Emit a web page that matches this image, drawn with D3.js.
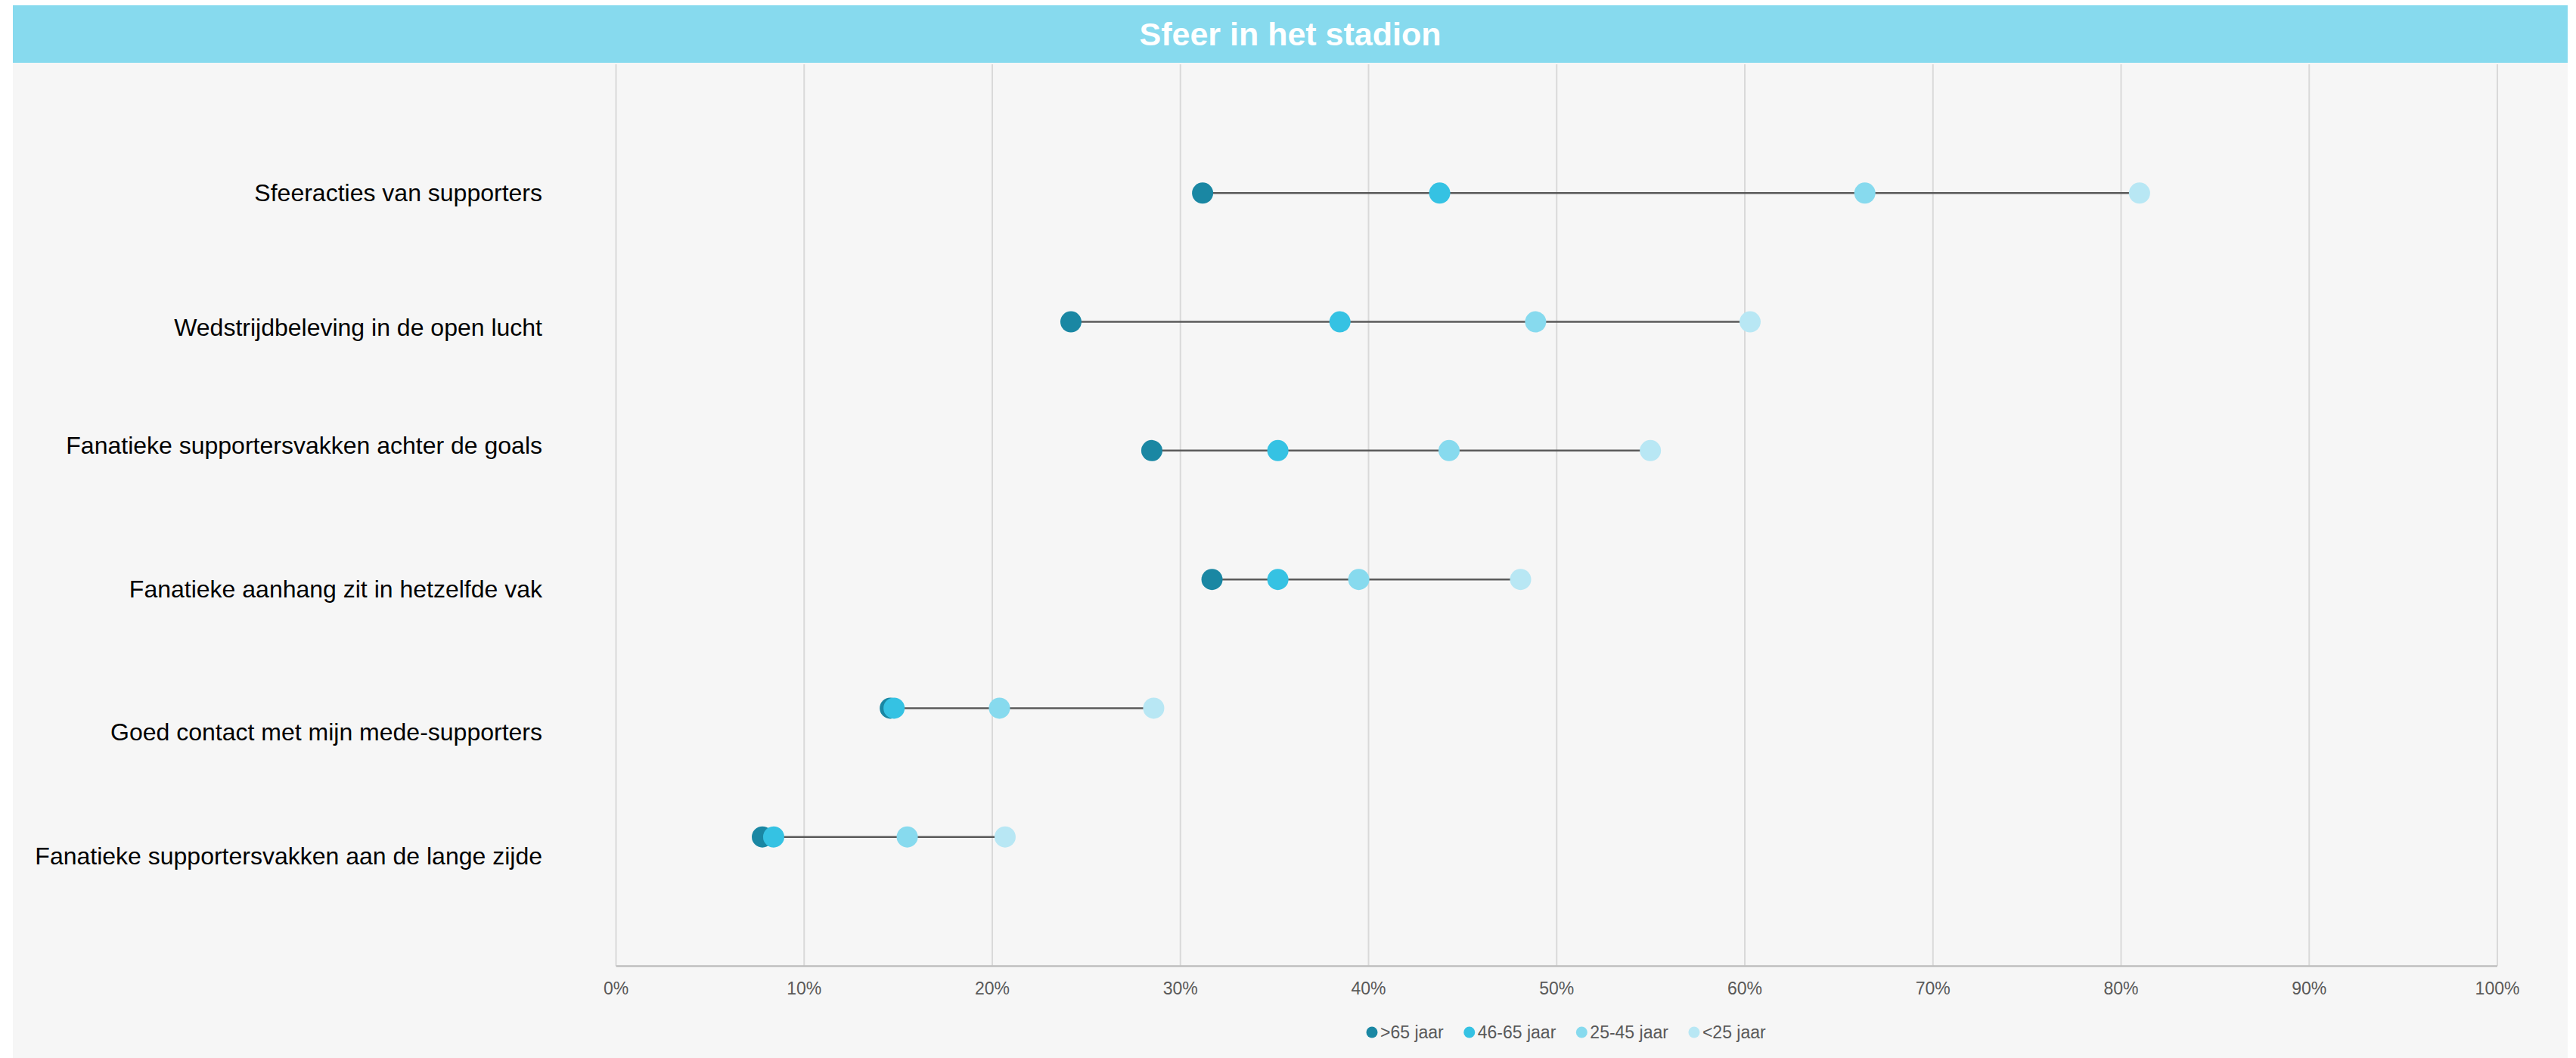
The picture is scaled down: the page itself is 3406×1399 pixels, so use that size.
<!DOCTYPE html>
<html>
<head>
<meta charset="utf-8">
<script src="https://cdn.jsdelivr.net/npm/d3@7"></script>
<style>
  html, body { margin: 0; padding: 0; background: #ffffff; }
  svg { display: block; }
  text { font-family: "Liberation Sans", Arial, sans-serif; }
</style>
</head>
<body>
<svg id="chart" width="3406" height="1399"></svg>
<script>
// ---------------- DATA ----------------
const title = "Sfeer in het stadion";
const categories = [
  "Sfeeracties van supporters",
  "Wedstrijdbeleving in de open lucht",
  "Fanatieke supportersvakken achter de goals",
  "Fanatieke aanhang zit in hetzelfde vak",
  "Goed contact met mijn mede-supporters",
  "Fanatieke supportersvakken aan de lange zijde"
];
const seriesNames = [">65 jaar", "46-65 jaar", "25-45 jaar", "<25 jaar"];
const over65   = [31.2, 24.2, 28.5, 31.7, 14.6, 7.8];
const age46_65 = [43.8, 38.5, 35.2, 35.2, 14.8, 8.4];
const age25_45 = [66.4, 48.9, 44.3, 39.5, 20.4, 15.5];
const under25  = [81.0, 60.3, 55.0, 48.1, 28.6, 20.7];
const xTicks = [0, 10, 20, 30, 40, 50, 60, 70, 80, 90, 100];

// ---------------- LAYOUT / STYLE ----------------
const W = 3406, H = 1399;
const colors = ["#1a87a3", "#35c2e3", "#87daee", "#b8e7f4"];
const panel = { x0: 17, x1: 3395, y0: 7 };
const header = { y1: 83 };
const plot = { left: 814, right: 3301.5, top: 85, bottom: 1277 };
const labelNudge = [0, 7, -7, 13, 31, 25];

const series = [over65, age46_65, age25_45, under25];

const svg = d3.select("#chart");

svg.append("rect")
  .attr("x", panel.x0).attr("y", panel.y0)
  .attr("width", panel.x1 - panel.x0).attr("height", H - panel.y0)
  .attr("fill", "#f6f6f6");

svg.append("rect")
  .attr("x", panel.x0).attr("y", panel.y0)
  .attr("width", panel.x1 - panel.x0).attr("height", header.y1 - panel.y0)
  .attr("fill", "#87daee");

svg.append("text")
  .attr("x", (panel.x0 + panel.x1) / 2)
  .attr("y", (panel.y0 + header.y1) / 2)
  .attr("dy", "0.36em")
  .attr("text-anchor", "middle")
  .attr("font-size", 43)
  .attr("font-weight", "bold")
  .attr("fill", "#ffffff")
  .text(title);

const x = d3.scaleLinear().domain([0, 100]).range([plot.left, plot.right]);
const y = d3.scaleLinear().domain([0, categories.length + 1]).range([plot.bottom, plot.top]);
const rowY = i => y(categories.length - i);

// grid lines
const grid = svg.append("g")
  .attr("transform", `translate(0,${plot.bottom})`)
  .call(d3.axisBottom(x).tickValues(xTicks).tickSize(-(plot.bottom - plot.top)).tickFormat(""));
grid.select(".domain").remove();
grid.selectAll(".tick line").attr("stroke", "#d9d9d9").attr("stroke-width", 2);

// x axis
const xAxis = svg.append("g")
  .attr("transform", `translate(0,${plot.bottom})`)
  .call(d3.axisBottom(x).tickValues(xTicks).tickSize(0).tickPadding(22).tickFormat(d => d + "%"));
xAxis.select(".domain").attr("stroke", "#bfbfbf").attr("stroke-width", 2.5);
xAxis.selectAll(".tick text")
  .attr("font-family", "Liberation Sans, Arial, sans-serif")
  .attr("font-size", 23)
  .attr("fill", "#595959");

// category labels
svg.append("g").selectAll("text")
  .data(categories)
  .join("text")
  .attr("x", 717)
  .attr("y", (d, i) => rowY(i) + labelNudge[i])
  .attr("dy", "0.35em")
  .attr("text-anchor", "end")
  .attr("font-size", 32)
  .attr("fill", "#000000")
  .text(d => d);

// connecting lines
svg.append("g").selectAll("line")
  .data(categories)
  .join("line")
  .attr("x1", (d, i) => x(d3.min(series, s => s[i])))
  .attr("x2", (d, i) => x(d3.max(series, s => s[i])))
  .attr("y1", (d, i) => rowY(i))
  .attr("y2", (d, i) => rowY(i))
  .attr("stroke", "#5a5a5a")
  .attr("stroke-width", 2.5);

// dots
series.forEach((s, k) => {
  svg.append("g").selectAll("circle")
    .data(s)
    .join("circle")
    .attr("cx", d => x(d))
    .attr("cy", (d, i) => rowY(i))
    .attr("r", 14)
    .attr("fill", colors[k]);
});

// legend
const legY = 1365;
const leg = svg.append("g");
let cx = 0;
seriesNames.forEach((name, k) => {
  const g = leg.append("g").attr("transform", `translate(${cx},0)`);
  g.append("circle").attr("cx", 0).attr("cy", legY).attr("r", 7.5).attr("fill", colors[k]);
  const t = g.append("text")
    .attr("x", 11).attr("y", legY).attr("dy", "0.35em")
    .attr("font-size", 23).attr("fill", "#595959").text(name);
  const w = t.node().getComputedTextLength();
  cx += 11 + w + 34;
});
const bb = leg.node().getBBox();
const legCenter = (plot.left + plot.right) / 2 + 13;
leg.attr("transform", `translate(${legCenter - (bb.x + bb.width / 2)},0)`);
</script>
</body>
</html>
